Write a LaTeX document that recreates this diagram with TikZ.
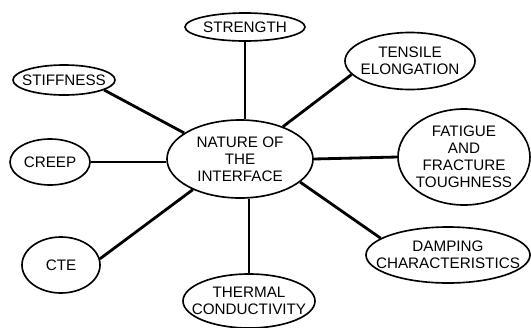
\documentclass[tikz,border=0pt]{standalone}
\usepackage{fontspec}
\setmainfont{Liberation Sans}
\usetikzlibrary{shapes.geometric}

\begin{document}
\begin{tikzpicture}[x=0.03cm, y=-0.03cm,
  oval/.style={ellipse, draw, line width=1.4pt, inner sep=0pt},
  txt/.style={font=\fontsize{13}{14.5}\selectfont, align=center},
  link/.style={line width=2.4pt},
  thin link/.style={line width=1.3pt}
]
\useasboundingbox (0,0) rectangle (531,327);

% Centre
\node[oval, minimum width=4.38cm, minimum height=2.34cm,
      label={[txt]center:NATURE OF\\THE\\INTERFACE}] (iface) at (240,159) {};

% Properties
\node[oval, minimum width=3.60cm, minimum height=0.84cm,
      label={[txt]center:STRENGTH}] (str) at (245,27) {};
\node[oval, minimum width=3.06cm, minimum height=0.90cm,
      label={[txt]center:STIFFNESS}] (stf) at (64,80) {};
\node[oval, minimum width=2.40cm, minimum height=1.38cm,
      label={[txt]center:CREEP}] (crp) at (50,162) {};
\node[oval, minimum width=2.34cm, minimum height=1.68cm,
      label={[txt]center:CTE}] (cte) at (61,265) {};
\node[oval, minimum width=3.96cm, minimum height=1.62cm,
      label={[txt]center:THERMAL\\CONDUCTIVITY}] (thc) at (249,301) {};
\node[oval, minimum width=3.90cm, minimum height=1.71cm,
      label={[txt]center:TENSILE\\ELONGATION}] (ten) at (410,61) {};
\node[oval, minimum width=3.96cm, minimum height=2.88cm,
      label={[txt]center:FATIGUE\\AND\\FRACTURE\\TOUGHNESS}] (fat) at (464,157) {};
\node[oval, minimum width=4.92cm, minimum height=1.68cm,
      label={[txt]center:DAMPING\\CHARACTERISTICS}] (dmp) at (448,255) {};

% Links
\draw[thin link] (str.south) -- (str.south |- iface.north);
\draw[link] (stf.-14) -- (iface.155);
\draw[link] (crp.east) -- (crp.east -| iface.west);
\draw[link] (cte.9) -- (iface.213);
\draw[link] (thc.north) -- (thc.north |- iface.south);
\draw[link] (iface.37) -- (ten.193);
\draw[link] (iface.east) -- (fat.west);
\draw[link] (iface.-21) -- (dmp.166);

\end{tikzpicture}
\end{document}
